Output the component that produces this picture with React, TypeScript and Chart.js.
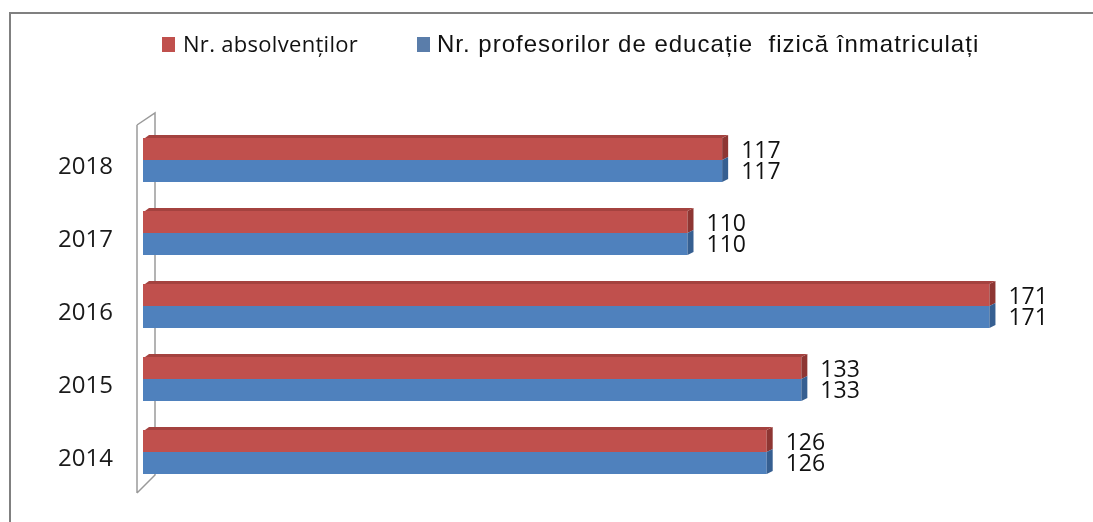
import React, { useEffect, useRef } from "react";
import { Chart, registerables } from "chart.js";

Chart.register(...registerables);

const years = ["2014", "2015", "2016", "2017", "2018"];
const absolventi = [126, 133, 171, 110, 117];
const profesori = [126, 133, 171, 110, 117];
const seriesNames = ["Nr. absolvenților", "Nr. profesorilor de educație  fizică înmatriculați"];
const xMin = 0;
const xMax = 180;

const RED = "#C0504D";
const BLUE = "#4F81BD";
const RED_DARK = "#8E3633";
const RED_TOP = "#A4423F";
const BLUE_DARK = "#365F91";

const decorPlugin = {
  id: "decor",
  beforeDraw(chart: any) {
    const ctx = chart.ctx;
    ctx.save();
    ctx.fillStyle = "#ffffff";
    ctx.fillRect(0, 0, chart.width, chart.height);
    ctx.strokeStyle = "#808080";
    ctx.lineWidth = 2;
    ctx.beginPath();
    ctx.moveTo(10, chart.height + 2);
    ctx.lineTo(10, 13);
    ctx.lineTo(chart.width + 2, 13);
    ctx.stroke();
    ctx.restore();
  },
  beforeDatasetsDraw(chart: any) {
    const ctx = chart.ctx;
    const a = chart.chartArea;
    const fx = a.left - 6;
    const bx = a.left + 12;
    const top = a.top + 1.5;
    const bot = a.bottom + 4.5;
    ctx.save();
    ctx.strokeStyle = "#9a9a9a";
    ctx.lineWidth = 1.5;
    ctx.beginPath();
    ctx.moveTo(fx, top);
    ctx.lineTo(fx, bot);
    ctx.moveTo(fx, top);
    ctx.lineTo(bx, top - 12);
    ctx.lineTo(bx, bot - 18);
    ctx.lineTo(fx, bot);
    ctx.stroke();
    ctx.restore();
  },
  afterDatasetsDraw(chart: any) {
    const ctx = chart.ctx;
    const dx = 6;
    const dy = 3;
    ctx.save();
    chart.data.datasets.forEach((ds: any, di: number) => {
      const meta = chart.getDatasetMeta(di);
      meta.data.forEach((el: any, i: number) => {
        const p = el.getProps(["x", "y", "base", "height"], true);
        const t = p.y - p.height / 2;
        const b = p.y + p.height / 2;
        ctx.fillStyle = di === 0 ? RED_DARK : BLUE_DARK;
        ctx.beginPath();
        ctx.moveTo(p.x, t);
        ctx.lineTo(p.x + dx, t - dy);
        ctx.lineTo(p.x + dx, b - dy);
        ctx.lineTo(p.x, b);
        ctx.closePath();
        ctx.fill();
        if (di === 0) {
          ctx.fillStyle = RED_TOP;
          ctx.beginPath();
          ctx.moveTo(p.base + 2, t);
          ctx.lineTo(p.x, t);
          ctx.lineTo(p.x + dx, t - dy);
          ctx.lineTo(p.base + dx, t - dy);
          ctx.closePath();
          ctx.fill();
        }
        ctx.fillStyle = "#111";
        ctx.font = '23px "Open Sans"';
        ctx.textAlign = "left";
        ctx.textBaseline = "middle";
        ctx.fillText(String(ds.data[i]), p.x + 19, p.y + (di === 0 ? 2 : 1));
      });
    });
    ctx.restore();
  },
  afterDraw(chart: any) {
    const ctx = chart.ctx;
    ctx.save();
    ctx.textBaseline = "alphabetic";
    ctx.textAlign = "left";
    ctx.fillStyle = RED;
    ctx.fillRect(162, 37, 13, 15);
    ctx.fillStyle = "#111";
    ctx.font = '22px "Open Sans"';
    (ctx as any).letterSpacing = "0.3px";
    ctx.fillText(seriesNames[0], 183, 52);
    ctx.fillStyle = "#5A7DAA";
    ctx.fillRect(417, 37, 13, 15);
    ctx.fillStyle = "#111";
    ctx.font = '24px "Liberation Sans"';
    (ctx as any).letterSpacing = "1px";
    ctx.fillText(seriesNames[1], 437, 52);
    (ctx as any).letterSpacing = "0px";
    ctx.restore();
  },
};

export default function App() {
  const ref = useRef<HTMLCanvasElement | null>(null);
  useEffect(() => {
    const prevMargin = document.body.style.margin;
    document.body.style.margin = "0";
    const chart = new Chart(ref.current as HTMLCanvasElement, {
      type: "bar",
      data: {
        labels: years,
        datasets: [
          {
            label: seriesNames[0],
            data: absolventi,
            backgroundColor: RED,
            borderWidth: 0,
            barPercentage: 1,
            categoryPercentage: 0.603,
          },
          {
            label: seriesNames[1],
            data: profesori,
            backgroundColor: BLUE,
            borderWidth: 0,
            barPercentage: 1,
            categoryPercentage: 0.603,
          },
        ],
      },
      options: {
        indexAxis: "y",
        responsive: false,
        animation: false,
        layout: { padding: { left: 0, top: 123.5, right: 59, bottom: 33.5 } },
        plugins: {
          legend: { display: false },
          tooltip: { enabled: false },
        },
        scales: {
          x: { display: false, min: xMin, max: xMax, grid: { display: false } },
          y: {
            reverse: true,
            grid: { display: false, drawTicks: false },
            border: { display: false },
            ticks: {
              padding: 30,
              labelOffset: 7,
              color: "#1a1a1a",
              font: { family: "Open Sans", size: 24 },
            },
            afterFit: (scale: any) => {
              scale.width = 143;
              scale.paddingTop = 0;
              scale.paddingBottom = 0;
            },
          },
        },
      },
      plugins: [decorPlugin],
    });
    return () => {
      chart.destroy();
      document.body.style.margin = prevMargin;
    };
  }, []);
  return (
    <div style={{ position: "fixed", left: 0, top: 0, width: 1093, height: 522, background: "#fff" }}>
      <canvas ref={ref} width={1093} height={522} style={{ display: "block" }} />
    </div>
  );
}
